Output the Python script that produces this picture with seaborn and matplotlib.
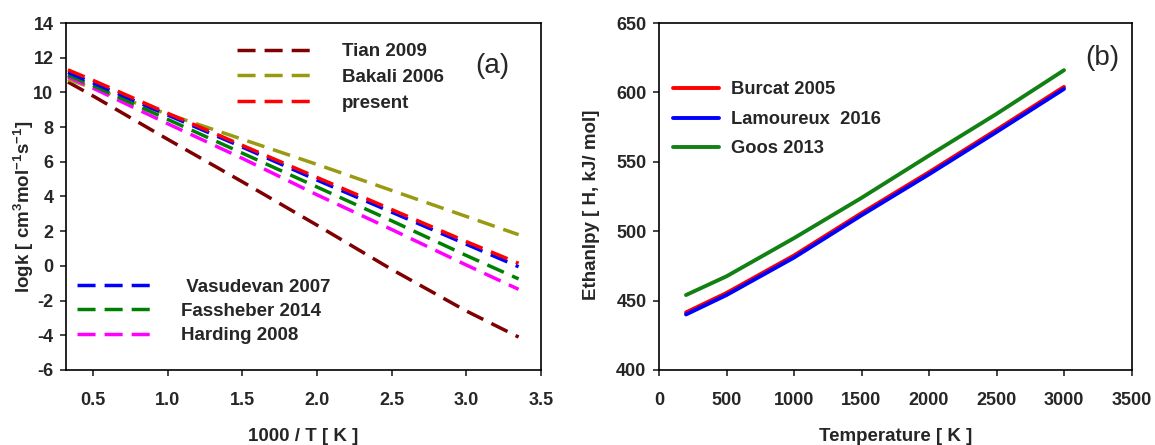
import numpy as np
import pandas as pd
import matplotlib
matplotlib.use("Agg")
import matplotlib.pyplot as plt
from matplotlib import font_manager
import seaborn as sns

# ---- Panel (a) data ----
inv_T = [0.333, 0.5, 1.0, 1.5, 2.0, 2.5, 3.0, 3.35]
tian_2009 = [10.6, 9.8, 7.3, 4.85, 2.35, -0.2, -2.6, -4.1]
bakali_2006 = [10.75, 10.25, 8.75, 7.3, 5.85, 4.35, 2.85, 1.8]
present = [11.3, 10.7, 8.8, 6.95, 5.1, 3.25, 1.4, 0.15]
vasudevan_2007 = [11.15, 10.55, 8.7, 6.85, 4.95, 3.1, 1.25, -0.05]
fassheber_2014 = [11.0, 10.4, 8.45, 6.5, 4.55, 2.6, 0.6, -0.75]
harding_2008 = [10.9, 10.25, 8.2, 6.2, 4.1, 2.1, 0.05, -1.35]

# ---- Panel (b) data ----
temperature = [200, 500, 1000, 1500, 2000, 2500, 3000]
burcat_2005 = [441.5, 455.5, 482.5, 513.0, 542.5, 573.0, 604.0]
lamoureux_2016 = [440.0, 454.0, 481.0, 511.5, 541.0, 571.5, 602.5]
goos_2013 = [454.0, 467.5, 495.0, 524.0, 554.5, 584.5, 616.0]

sns.set_style("ticks")
plt.rcParams['font.family'] = ['Liberation Sans', 'DejaVu Sans']
plt.rcParams['font.weight'] = 'bold'
plt.rcParams['axes.unicode_minus'] = False
plt.rcParams['mathtext.fontset'] = 'custom'
plt.rcParams['mathtext.rm'] = 'Liberation Sans:bold'
plt.rcParams['mathtext.it'] = 'Liberation Sans:bold'
plt.rcParams['mathtext.bf'] = 'Liberation Sans:bold'

FS = 13.5
txt_prop = {'family': ['Liberation Sans', 'DejaVu Sans'], 'size': FS, 'weight': 'bold'}
fp = font_manager.FontProperties(**txt_prop)

fig = plt.figure(figsize=(11.55, 4.45), dpi=100)
axA = fig.add_axes([66 / 1155, 1 - 370 / 445, 475 / 1155, 347 / 445])
axB = fig.add_axes([659 / 1155, 1 - 370 / 445, 472.5 / 1155, 347 / 445])

dash = (0, (5.2, 2.6))
lw = 2.5

seriesA = [
    ("Tian 2009", tian_2009, "#7f0000"),
    ("Bakali 2006", bakali_2006, "#9a9a12"),
    ("Harding 2008", harding_2008, "#ff00ff"),
    ("Fassheber 2014", fassheber_2014, "#008000"),
    ("Vasudevan 2007", vasudevan_2007, "#0000ff"),
    ("present", present, "#ff0000"),
]
handles = {}
for name, vals, col in seriesA:
    df = pd.DataFrame({"x": inv_T, "y": vals})
    sns.lineplot(data=df, x="x", y="y", ax=axA, color=col, lw=lw, legend=False)
    ln = axA.get_lines()[-1]
    ln.set_linestyle(dash)
    handles[name] = ln

axA.set_xlim(0.32, 3.5)
axA.set_ylim(-6, 14)
axA.set_xticks([0.5, 1.0, 1.5, 2.0, 2.5, 3.0, 3.5])
axA.set_xticklabels(["0.5", "1.0", "1.5", "2.0", "2.5", "3.0", "3.5"])
axA.set_yticks(range(-6, 15, 2))
axA.set_xlabel("1000 / T [ K ]", fontproperties=fp)
axA.set_ylabel(r"logk [ cm$^{3}$mol$^{-1}$s$^{-1}$]", fontproperties=fp)
axA.xaxis.set_label_coords(0.5, -0.167)
axA.xaxis.label.set_va('top')
axA.yaxis.set_label_coords(-0.088, 0.47)
axA.yaxis.label.set_va('center')

leg_kw = dict(loc="upper left", frameon=False, borderpad=0, borderaxespad=0,
              handlelength=4.05, handletextpad=1.5, prop=txt_prop)
leg1 = axA.legend([handles[n] for n in ["Tian 2009", "Bakali 2006", "present"]],
                  ["Tian 2009", "Bakali 2006", "present"],
                  bbox_to_anchor=(0.361, 0.942), labelspacing=0.46, **leg_kw)
axA.add_artist(leg1)
axA.legend([handles[n] for n in ["Vasudevan 2007", "Fassheber 2014", "Harding 2008"]],
           [" Vasudevan 2007", "Fassheber 2014", "Harding 2008"],
           bbox_to_anchor=(0.023, 0.2635), labelspacing=0.38, **leg_kw)
axA.text(0.897, 0.876, "(a)", transform=axA.transAxes, fontsize=20,
         fontweight='normal', family=['Liberation Sans'], ha='center', va='center')

seriesB = [
    ("Goos 2013", goos_2013, "#138013"),
    ("Burcat 2005", burcat_2005, "#ff0000"),
    ("Lamoureux  2016", lamoureux_2016, "#0000ff"),
]
hb = {}
for name, vals, col in seriesB:
    df = pd.DataFrame({"x": temperature, "y": vals})
    sns.lineplot(data=df, x="x", y="y", ax=axB, color=col, lw=2.8, legend=False)
    hb[name] = axB.get_lines()[-1]

axB.set_xlim(0, 3500)
axB.set_ylim(400, 650)
axB.set_xticks(range(0, 3501, 500))
axB.set_yticks(range(400, 651, 50))
axB.set_xlabel("Temperature [ K ]", fontproperties=fp)
axB.set_ylabel("Ethanlpy [ H, kJ/ mol]", fontproperties=fp)
axB.xaxis.set_label_coords(0.5, -0.167)
axB.xaxis.label.set_va('top')
axB.yaxis.set_label_coords(-0.142, 0.475)
axB.yaxis.label.set_va('center')
axB.legend([hb[n] for n in ["Burcat 2005", "Lamoureux  2016", "Goos 2013"]],
           ["Burcat 2005", "Lamoureux  2016", "Goos 2013"],
           loc="upper left", bbox_to_anchor=(0.0296, 0.8315), frameon=False,
           borderpad=0, borderaxespad=0,
           handlelength=2.5, handletextpad=0.64, labelspacing=0.68,
           prop={'family': ['Liberation Sans'], 'size': 13.2, 'weight': 'bold'})
axB.text(0.938, 0.90, "(b)", transform=axB.transAxes, fontsize=20,
         fontweight='normal', family=['Liberation Sans'], ha='center', va='center')

for ax in (axA, axB):
    for s in ax.spines.values():
        s.set_linewidth(1.2)
        s.set_color('black')
    ax.tick_params(axis='both', which='major', direction='out', length=4,
                   width=1.2, labelsize=13, top=False, right=False)
    ax.tick_params(axis='x', pad=11.5)
    ax.tick_params(axis='y', pad=5)
    for lab in ax.get_xticklabels() + ax.get_yticklabels():
        lab.set_fontweight('bold')

fig.savefig("out.png", dpi=100)
